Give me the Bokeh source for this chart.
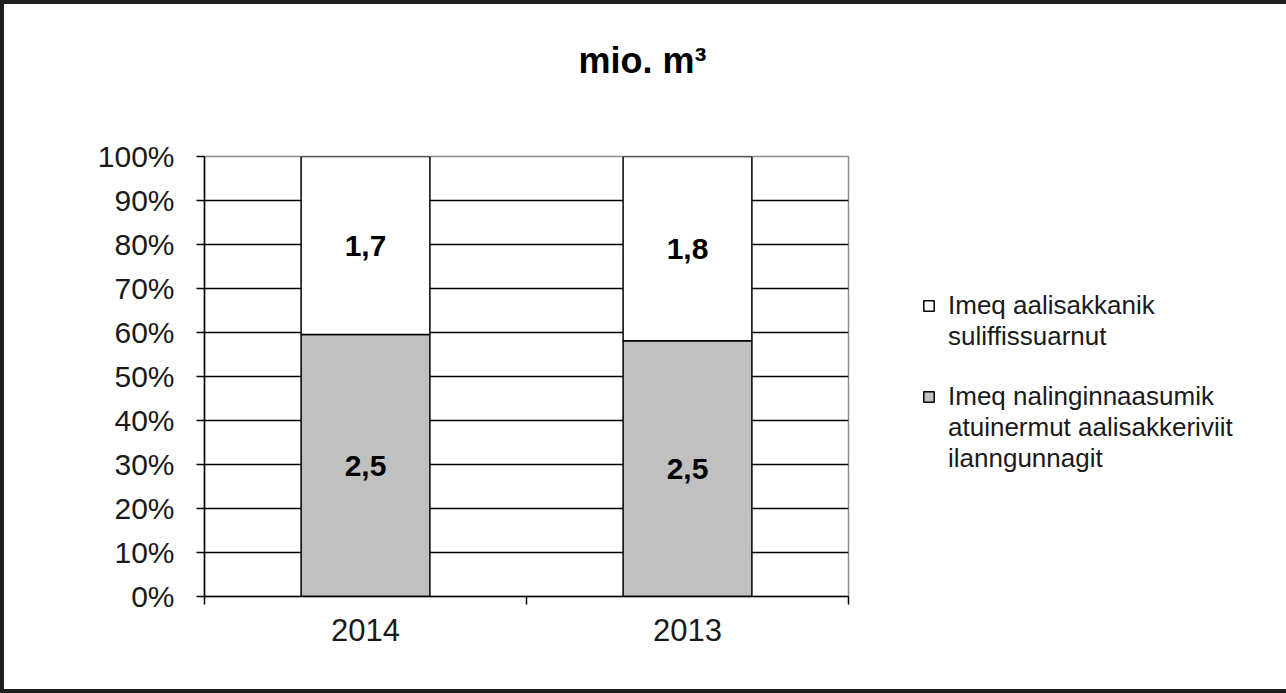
from bokeh.plotting import figure
from bokeh.models import (ColumnDataSource, Range1d, FixedTicker, PrintfTickFormatter,
                          Legend, LegendItem, Title)
from bokeh.core.properties import value
from bokeh.embed import file_html
from bokeh.resources import INLINE

# ---- data ----
years = ["2014", "2013"]
vals_other = [2.5, 2.5]      # Imeq nalinginnaasumik atuinermut aalisakkeriviit ilanngunnagit
vals_factory = [1.7, 1.8]    # Imeq aalisakkanik suliffissuarnut
label_factory = ["Imeq aalisakkanik", "suliffissuarnut"]
label_other = ["Imeq nalinginnaasumik", "atuinermut aalisakkeriviit", "ilanngunnagit"]
title_text = "mio. m³"
y_ticks = list(range(0, 101, 10))

FONT = "Liberation Sans"
GRAY = "#C0C0C0"

xs = [i + 0.5 for i in range(len(years))]
tot = [a + b for a, b in zip(vals_other, vals_factory)]
pct_other = [a / t * 100 for a, t in zip(vals_other, tot)]
pct_factory = [b / t * 100 for b, t in zip(vals_factory, tot)]

src = ColumnDataSource(dict(x=xs, other=pct_other, factory=pct_factory))

W, H = 1278, 685
FL, FT, FW, FH = 200, 152, 644, 440

p = figure(width=W, height=H, output_backend="svg", toolbar_location=None,
           x_range=Range1d(0, len(years)), y_range=Range1d(0, 100),
           frame_width=FW, frame_height=FH,
           min_border_left=FL, min_border_top=FT,
           min_border_right=W - FL - FW, min_border_bottom=H - FT - FH)
p.styles = {"border": "4px solid #1e1e1e"}
p.background_fill_color = "white"
p.border_fill_color = "white"
p.outline_line_color = "#8c8c8c"
p.outline_line_width = 1.5

# title, centred over the whole chart; an empty spacer title lifts it
p.title.text = title_text
p.title.align = "left"
p.title.offset = 374
p.title.standoff = 0
p.title.text_font = FONT
p.title.text_font_style = "bold"
p.title.text_font_size = "36px"
p.title.text_color = "black"
p.add_layout(Title(text=" ", text_font_size="1px", standoff=73), "above")

rs = p.vbar_stack(["other", "factory"], x="x", width=0.4, source=src,
                  fill_color=[GRAY, "white"], line_color="black", line_width=1.5)

# value labels
lab_src = ColumnDataSource(dict(
    x=xs + xs,
    y=[o / 2 for o in pct_other] + [o + f / 2 for o, f in zip(pct_other, pct_factory)],
    t=[f"{v:.1f}".replace(".", ",") for v in vals_other + vals_factory]))
p.text(x="x", y="y", text="t", source=lab_src, text_align="center", text_baseline="middle",
       text_font=value(FONT), text_font_style="bold", text_font_size="30px", text_color="black")

# axes
p.yaxis.ticker = FixedTicker(ticks=y_ticks)
p.yaxis.formatter = PrintfTickFormatter(format="%d%%")
p.yaxis.major_tick_out = 8
p.yaxis.major_tick_in = 0
p.yaxis.minor_tick_line_color = None
p.yaxis.major_label_standoff = 22
p.yaxis.axis_line_color = "black"
p.yaxis.axis_line_width = 1.5
p.yaxis.major_tick_line_width = 1.5

p.xaxis.ticker = FixedTicker(ticks=xs, minor_ticks=list(range(len(years) + 1)))
p.xaxis.major_label_overrides = {x: y for x, y in zip(xs, years)}
p.xaxis.major_tick_line_color = None
p.xaxis.major_tick_out = 0
p.xaxis.minor_tick_out = 8
p.xaxis.minor_tick_in = 0
p.xaxis.minor_tick_line_width = 1.5
p.xaxis.major_label_standoff = 14
p.xaxis.axis_line_color = "black"
p.xaxis.axis_line_width = 1.5

for ax in (p.xaxis, p.yaxis):
    ax.major_label_text_font = FONT
    ax.major_label_text_font_size = "30px"
    ax.major_label_text_color = "#1a1a1a"
p.xaxis.major_label_text_font_size = "31px"

p.xgrid.visible = False
p.ygrid.ticker = FixedTicker(ticks=y_ticks)
p.ygrid.grid_line_color = "black"
p.ygrid.grid_line_width = 1.3

# legend: one entry per text line, glyph on the first line of each series
items = [LegendItem(label=label_factory[0], renderers=[rs[1]])]
items += [LegendItem(label=t, renderers=[]) for t in label_factory[1:]]
items += [LegendItem(label=" ", renderers=[])]
items += [LegendItem(label=label_other[0], renderers=[rs[0]])]
items += [LegendItem(label=t, renderers=[]) for t in label_other[1:]]

legend = Legend(items=items, location=(74, 122), orientation="vertical",
                glyph_width=13, glyph_height=13, label_standoff=13,
                padding=0, margin=0, spacing=0, label_height=29,
                border_line_color=None, background_fill_alpha=0,
                label_text_font=FONT, label_text_font_size="26px",
                label_text_color="#1a1a1a", label_text_baseline="middle")
p.add_layout(legend, "right")

open("out.html", "w").write(file_html(p, INLINE))
